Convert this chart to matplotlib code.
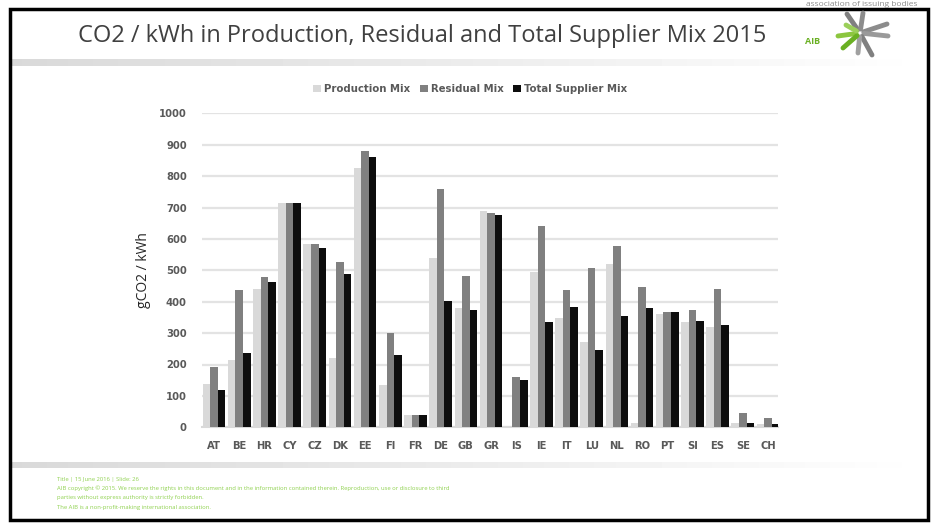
import numpy as np
import matplotlib.pyplot as plt
from matplotlib.patches import Rectangle

countries = ["AT", "BE", "HR", "CY", "CZ", "DK", "EE", "FI", "FR", "DE", "GB", "GR",
             "IS", "IE", "IT", "LU", "NL", "RO", "PT", "SI", "ES", "SE", "CH"]
production = [137, 213, 442, 714, 584, 222, 825, 135, 38, 538, 380, 689,
              4, 496, 347, 271, 520, 15, 360, 335, 318, 14, 10]
residual = [193, 437, 478, 714, 584, 527, 881, 299, 38, 760, 483, 682,
            160, 641, 437, 506, 576, 446, 368, 373, 442, 47, 30]
total = [120, 238, 462, 714, 572, 487, 862, 229, 38, 401, 373, 677,
         152, 335, 384, 246, 356, 380, 368, 340, 327, 14, 10]
yticks = [0, 100, 200, 300, 400, 500, 600, 700, 800, 900, 1000]

W, H = 933, 525
fig = plt.figure(figsize=(W / 100, H / 100), dpi=100)

# slide decoration, drawn in pixel coordinates
deco = fig.add_axes([0, 0, 1, 1])
deco.axis("off")
deco.add_patch(Rectangle((10, 9), 918, 511, fill=False, ec="black", lw=2.5))
deco.text(862, 4.5, "association of issuing bodies", fontsize=6, color="#8c8c8c",
          ha="center", va="center", family="Open Sans")
deco.text(78, 36, "CO2 / kWh in Production, Residual and Total Supplier Mix 2015",
          fontsize=17, color="#404040", va="center", family="Open Sans")

# gradient strips under the title and above the footer
grad = np.linspace(0.85, 1.0, 256).reshape(1, -1)
deco.imshow(grad, extent=(11, 927, 66, 59), cmap="gray", vmin=0, vmax=1, aspect="auto")
deco.imshow(grad, extent=(11, 927, 468, 462), cmap="gray", vmin=0, vmax=1, aspect="auto")
deco.set_xlim(0, W)
deco.set_ylim(H, 0)

# AIB logo, rough sketch
cx, cy = 860, 33
strokes = [(-13, -19, "#808080"), (3, -20, "#8c8c8c"), (27, -9, "#8c8c8c"),
           (28, 3, "#9a9a9a"), (12, 22, "#808080"), (-2, 20, "#a0a0a0"),
           (-22, 3, "#8cc63f"), (-17, 15, "#6ab023"), (-14, -8, "#9bcf5a")]
for dx, dy, col in strokes:
    n = np.hypot(dx, dy)
    deco.plot([cx + 4 * dx / n, cx + dx], [cy + 4 * dy / n, cy + dy], color=col,
              lw=3.5, solid_capstyle="round")
deco.text(813, 42, "AIB", fontsize=6.5, color="#6ab023", ha="center", va="center",
          family="Open Sans", weight="bold")

footer = ["Title | 15 June 2016 | Slide: 26",
          "AIB copyright \u00a9 2015. We reserve the rights in this document and in the information "
          "contained therein. Reproduction, use or disclosure to third",
          "parties without express authority is strictly forbidden.",
          "The AIB is a non-profit-making international association."]
for i, line in enumerate(footer):
    deco.text(57, 479 + i * 9.4, line, fontsize=4.25, color="#8fd14f", va="center",
              family="Open Sans")

# chart
ax = fig.add_axes([202 / W, 1 - 427.3 / H, 576 / W, 314 / H])
x = np.arange(len(countries))
bw = 0.3
ax.bar(x - bw, production, bw, color="#d9d9d9", label="Production Mix", zorder=3)
ax.bar(x, residual, bw, color="#808080", label="Residual Mix", zorder=3)
ax.bar(x + bw, total, bw, color="#0d0d0d", label="Total Supplier Mix", zorder=3)

ax.set_xlim(-0.48, len(countries) - 0.6)
ax.set_ylim(0, 1000)
ax.set_yticks(yticks)
ax.set_xticks(x)
ax.set_xticklabels(countries)
ax.grid(axis="y", color="#e3e3e3", lw=1.6, zorder=0)
for s in ["top", "right", "left"]:
    ax.spines[s].set_visible(False)
ax.spines["bottom"].set_color("#d9d9d9")
ax.spines["bottom"].set_linewidth(1.5)
ax.tick_params(axis="both", length=0, labelsize=7.2, labelcolor="#595959")
ax.tick_params(axis="y", pad=11)
ax.tick_params(axis="x", pad=10)
for t in ax.get_xticklabels() + ax.get_yticklabels():
    t.set_fontweight("bold")
ax.set_ylabel("gCO2 / kWh", fontsize=10, color="#262626", labelpad=6, family="Open Sans")

leg = ax.legend(loc="center", bbox_to_anchor=(470 / W, 1 - 89 / H),
                bbox_transform=fig.transFigure, ncol=3, frameon=False,
                handlelength=0.8, handleheight=0.8, handletextpad=0.3,
                columnspacing=0.9, prop={"size": 7.3, "weight": "bold"})
for t in leg.get_texts():
    t.set_color("#595959")

fig.savefig("out.png", dpi=100)
